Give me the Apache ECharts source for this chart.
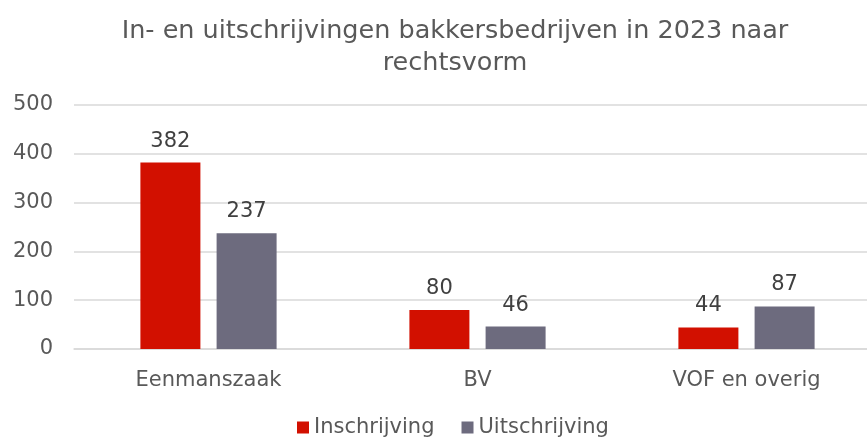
<!DOCTYPE html>
<html lang="nl">
<head>
    <meta charset="UTF-8">
    <title>Bakkersbedrijven 2023</title>
    <script src="https://cdn.jsdelivr.net/npm/echarts@6/dist/echarts.min.js"></script>
    <style>
        html, body { margin: 0; padding: 0; background: #fff; }
        #chart { width: 867px; height: 439px; }
    </style>
</head>
<body>
    <div id="chart"></div>
    <script>
        var categories = ['Eenmanszaak', 'BV', 'VOF en overig'];
        var inschrijving = [382, 80, 44];
        var uitschrijving = [237, 46, 87];
        var yTicks = [0, 100, 200, 300, 400, 500];

        var font = 'Verdana, "DejaVu Sans", sans-serif';
        var chart = echarts.init(document.getElementById('chart'));

        var option = {
            animation: false,
            title: {
                text: 'In- en uitschrijvingen bakkersbedrijven in 2023 naar\nrechtsvorm',
                left: 450,
                top: 10,
                textAlign: 'center',
                textStyle: { fontFamily: font, fontSize: 25.5, fontWeight: 'normal', color: '#595959', lineHeight: 32 }
            },
            legend: {
                bottom: -4,
                left: 292,
                itemWidth: 12,
                itemHeight: 12,
                itemGap: 27,
                icon: 'rect',
                textStyle: { fontFamily: font, fontSize: 21, color: '#595959', padding: [0, 0, 0, 0] },
                data: ['Inschrijving', 'Uitschrijving']
            },
            grid: { left: 74, width: 807, top: 105, bottom: 90, outerBoundsMode: 'none' },
            xAxis: {
                type: 'category',
                data: categories,
                axisLine: { lineStyle: { color: '#d9d9d9', width: 1.5 } },
                axisTick: { show: false },
                axisLabel: { fontFamily: font, fontSize: 21, color: '#595959', margin: 21 }
            },
            yAxis: {
                type: 'value',
                min: yTicks[0],
                max: yTicks[yTicks.length - 1],
                interval: 100,
                axisLine: { show: false },
                axisTick: { show: false },
                splitLine: { lineStyle: { color: '#d9d9d9', width: 1.5 } },
                axisLabel: { fontFamily: font, fontSize: 21, color: '#595959', margin: 21 }
            },
            series: [
                {
                    name: 'Inschrijving',
                    type: 'bar',
                    data: inschrijving,
                    barWidth: 60,
                    barGap: '27%',
                    itemStyle: { color: '#d21000' },
                    label: { show: true, position: 'top', distance: 11, fontFamily: font, fontSize: 21, color: '#404040' }
                },
                {
                    name: 'Uitschrijving',
                    type: 'bar',
                    data: uitschrijving,
                    barWidth: 60,
                    itemStyle: { color: '#6d6b7e' },
                    label: { show: true, position: 'top', distance: 11, fontFamily: font, fontSize: 21, color: '#404040' }
                }
            ]
        };
        chart.setOption(option);
    </script>
</body>
</html>
